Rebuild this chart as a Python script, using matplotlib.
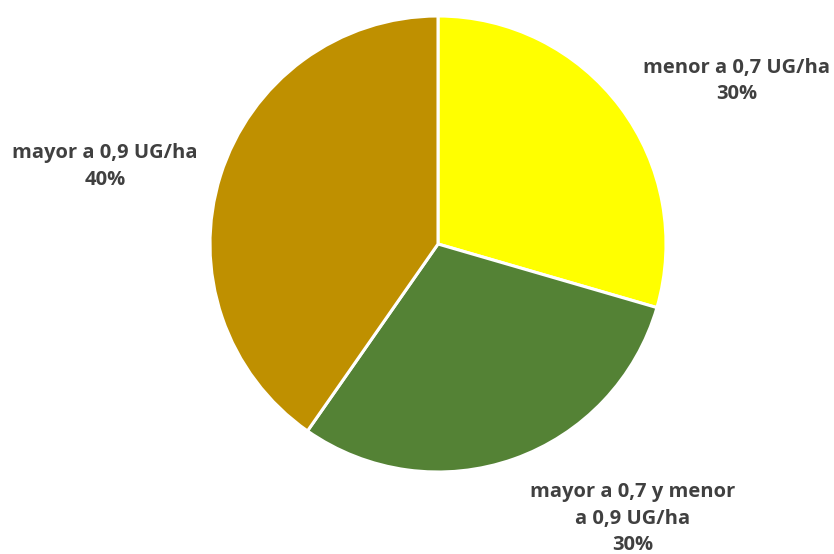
import matplotlib.pyplot as plt

# data
labels = ['menor a 0,7 UG/ha', 'mayor a 0,7 y menor\na 0,9 UG/ha', 'mayor a 0,9 UG/ha']
values = [29.5, 30.2, 40.3]
pct_labels = ['30%', '30%', '40%']
colors = ['#FFFF00', '#548235', '#BF9000']

# label anchor points (in pie-radius units)
label_pos = [(1.31, 0.715), (0.855, -1.205), (-1.46, 0.34)]

fig = plt.figure(figsize=(8.34, 5.54), dpi=100)
W, H = 834, 554
cx, cy, r = 438, 244, 228
ax = fig.add_axes([(cx - r) / W, (H - cy - r) / H, 2 * r / W, 2 * r / H])

ax.pie(values, colors=colors, startangle=90, counterclock=False,
       radius=1.0, wedgeprops=dict(edgecolor='white', linewidth=2.2))
ax.set_xlim(-1, 1)
ax.set_ylim(-1, 1)
ax.set_aspect('auto')
ax.axis('off')

for lab, p, (x, y) in zip(labels, pct_labels, label_pos):
    ax.text(x, y, f'{lab}\n{p}', ha='center', va='center', fontsize=14.5,
            fontweight='bold', color='#404040', family='Open Sans',
            linespacing=1.45, clip_on=False)

fig.savefig('out.png', dpi=100)
